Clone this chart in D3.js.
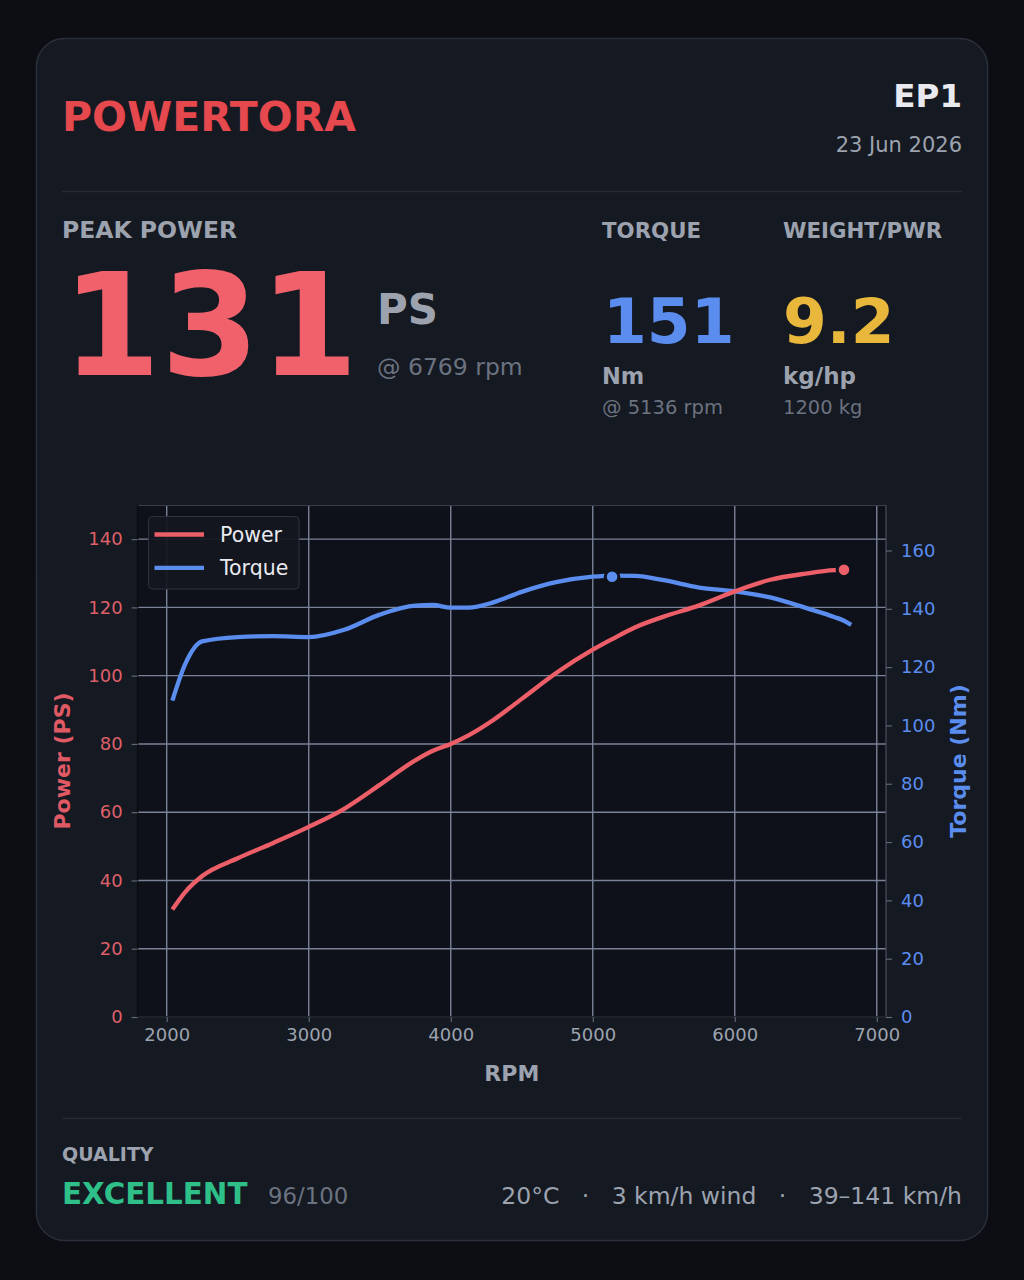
<!DOCTYPE html>
<html>
<head>
<meta charset="utf-8">
<script src="https://cdn.jsdelivr.net/npm/d3@7"></script>
<style>
  html, body { margin: 0; padding: 0; background: #0c0e13; }
  svg { display: block; font-family: "DejaVu Sans", sans-serif; }
  .pre { white-space: pre; }
</style>
</head>
<body>
<div id="chart"></div>
<script>
// DATA
const rpm    = [2040, 2130, 2250, 2500, 2750, 3000, 3250, 3500, 3750, 3875, 4000, 4125, 4300, 4500, 4750, 5000, 5136, 5300, 5500, 5750, 6000, 6250, 6500, 6700, 6769, 6820];
const power  = [31.5, 36.6, 41.3, 46.5, 51.0, 55.7, 61.0, 68.0, 75.2, 78.0, 80.0, 82.5, 87.0, 93.2, 101.0, 107.6, 110.7, 114.2, 117.3, 120.6, 124.7, 128.1, 129.9, 130.9, 131.0, 130.6];
const torque = [108.5, 121.0, 128.8, 130.3, 130.6, 130.3, 132.8, 138.0, 141.1, 141.3, 140.4, 140.4, 142.2, 145.8, 149.2, 151.0, 151.4, 151.3, 149.8, 147.3, 146.0, 143.9, 140.3, 137.2, 135.9, 134.5];
const rpmTicks    = [2000, 3000, 4000, 5000, 6000, 7000];
const powerTicks  = [0, 20, 40, 60, 80, 100, 120, 140];
const torqueTicks = [0, 20, 40, 60, 80, 100, 120, 140, 160];
const peakPower  = {rpm: 6769, value: 131};
const peakTorque = {rpm: 5136, value: 151};
const weatherBits = ["20°C", "3 km/h wind", "39–141 km/h"];

// COLOURS
const C = {
  page: '#0c0e13', card: '#151922', cardLine: '#2a2f3b', divider: '#252a35',
  plot: '#0f111a', grid: '#7a8296',
  red: '#e5484d', power: '#ec5f69', torque: '#5b8def', gold: '#e9b73c', green: '#2fbf88',
  label: '#9ca3af', muted: '#6b7280', white: '#e8eaef'
};

const W = 1024, H = 1280;
const svg = d3.select('#chart').append('svg').attr('width', W).attr('height', H);
svg.append('rect').attr('width', W).attr('height', H).attr('fill', C.page);

// card
svg.append('rect')
  .attr('x', 36.5).attr('y', 38.5).attr('width', 951).attr('height', 1202).attr('rx', 28)
  .attr('fill', C.card).attr('stroke', C.cardLine).attr('stroke-width', 1.5);

function txt(x, y, s, size, color, weight, anchor) {
  return svg.append('text').attr('x', x).attr('y', y)
    .attr('font-size', size).attr('fill', color)
    .attr('font-weight', weight || 'normal')
    .attr('text-anchor', anchor || 'start').text(s);
}

// header
txt(62, 131, 'POWERTORA', 41, C.red, 'bold');
txt(962, 107, 'EP1', 32.5, C.white, 'bold', 'end');
txt(962, 152, '23 Jun 2026', 21, C.label, 'normal', 'end');
svg.append('line').attr('x1', 62).attr('x2', 962).attr('y1', 191.5).attr('y2', 191.5)
  .attr('stroke', C.divider).attr('stroke-width', 1.5);

// stats
txt(62, 238, 'PEAK POWER', 23.5, C.label, 'bold');
txt(62, 375, String(peakPower.value), 142, '#f0616b', 'bold');
txt(377, 324, 'PS', 42, C.label, 'bold');
txt(377, 375, '@ ' + peakPower.rpm + ' rpm', 23.5, C.muted);

txt(602, 238, 'TORQUE', 21.3, C.label, 'bold');
txt(603, 343, String(peakTorque.value), 63, C.torque, 'bold');
txt(602, 384, 'Nm', 22.5, C.label, 'bold');
txt(602, 414, '@ ' + peakTorque.rpm + ' rpm', 19.5, C.muted);

txt(783, 238, 'WEIGHT/PWR', 21.3, C.label, 'bold');
txt(783, 343, '9.2', 63, C.gold, 'bold');
txt(783, 384, 'kg/hp', 23, C.label, 'bold');
txt(783, 414, '1200 kg', 19.5, C.muted);

// CHART
const px0 = 137.6, px1 = 886, py0 = 505, py1 = 1017;
const x  = d3.scaleLinear().domain([1795, 7065]).range([px0, px1]);
const yP = d3.scaleLinear().domain([0, 150]).range([py1, py0]);
const yT = d3.scaleLinear().domain([0, 175.6]).range([py1, py0]);

const g = svg.append('g');
g.append('rect').attr('x', px0).attr('y', py0).attr('width', px1 - px0).attr('height', py1 - py0)
  .attr('fill', C.plot);

// grid
g.selectAll('line.gx').data(rpmTicks).join('line').attr('class', 'gx')
  .attr('x1', d => x(d)).attr('x2', d => x(d)).attr('y1', py0).attr('y2', py1)
  .attr('stroke', C.grid).attr('stroke-width', 1.4);
g.selectAll('line.gy').data(powerTicks).join('line').attr('class', 'gy')
  .attr('x1', px0).attr('x2', px1).attr('y1', d => yP(d)).attr('y2', d => yP(d))
  .attr('stroke', C.grid).attr('stroke-width', 1.4);

// spines
g.append('line').attr('x1', px0).attr('x2', px1).attr('y1', py0 + 0.5).attr('y2', py0 + 0.5).attr('stroke', '#3a3f4c').attr('stroke-width', 1.2);
g.append('line').attr('x1', px1).attr('x2', px1).attr('y1', py0).attr('y2', py1).attr('stroke', '#4a5060').attr('stroke-width', 1.2);
g.append('line').attr('x1', px0).attr('x2', px0).attr('y1', py0).attr('y2', py1).attr('stroke', '#0a0c10').attr('stroke-width', 1.5);
g.append('line').attr('x1', px0).attr('x2', px1).attr('y1', py1).attr('y2', py1).attr('stroke', '#0a0c10').attr('stroke-width', 1.5);

// axes
function styleAxis(sel, color) {
  sel.select('.domain').remove();
  sel.selectAll('.tick line').attr('stroke', '#5f6677').attr('stroke-width', 1.2);
  sel.selectAll('.tick text').attr('fill', color).attr('font-size', 18)
    .attr('font-family', '"DejaVu Sans", sans-serif');
}
const axB = svg.append('g').attr('transform', `translate(0,${py1})`)
  .call(d3.axisBottom(x).tickValues(rpmTicks).tickSize(5).tickPadding(6).tickFormat(d3.format('d')));
styleAxis(axB, C.label);
const axL = svg.append('g').attr('transform', `translate(${px0},0)`)
  .call(d3.axisLeft(yP).tickValues(powerTicks).tickSize(6).tickPadding(9));
styleAxis(axL, '#dd6069');
const axR = svg.append('g').attr('transform', `translate(${px1},0)`)
  .call(d3.axisRight(yT).tickValues(torqueTicks).tickSize(6).tickPadding(9));
styleAxis(axR, C.torque);

txt((px0 + px1) / 2, 1081, 'RPM', 22, C.label, 'bold', 'middle');
svg.append('text').attr('transform', `translate(70,${(py0 + py1) / 2}) rotate(-90)`)
  .attr('text-anchor', 'middle').attr('font-size', 22).attr('font-weight', 'bold')
  .attr('fill', '#e05a65').text('Power (PS)');
svg.append('text').attr('transform', `translate(966,${(py0 + py1) / 2}) rotate(-90)`)
  .attr('text-anchor', 'middle').attr('font-size', 22).attr('font-weight', 'bold')
  .attr('fill', C.torque).text('Torque (Nm)');

// curves
const rows = rpm.map((r, i) => ({rpm: r, p: power[i], t: torque[i]}));
const lineP = d3.line().x(d => x(d.rpm)).y(d => yP(d.p)).curve(d3.curveMonotoneX);
const lineT = d3.line().x(d => x(d.rpm)).y(d => yT(d.t)).curve(d3.curveMonotoneX);
g.append('path').datum(rows).attr('d', lineT).attr('fill', 'none')
  .attr('stroke', C.torque).attr('stroke-width', 4.3).attr('stroke-linecap', 'butt');
g.append('path').datum(rows).attr('d', lineP).attr('fill', 'none')
  .attr('stroke', C.power).attr('stroke-width', 4.3).attr('stroke-linecap', 'butt');

// peak markers
g.append('circle').attr('cx', x(peakTorque.rpm)).attr('cy', yT(peakTorque.value)).attr('r', 6.8)
  .attr('fill', C.torque).attr('stroke', C.plot).attr('stroke-width', 3);
g.append('circle').attr('cx', x(peakPower.rpm)).attr('cy', yP(peakPower.value)).attr('r', 6.8)
  .attr('fill', C.power).attr('stroke', C.plot).attr('stroke-width', 3);

// legend
const lg = svg.append('g').attr('transform', 'translate(148.5,516.5)');
lg.append('rect').attr('width', 150.5).attr('height', 72.5).attr('rx', 4)
  .attr('fill', '#141720').attr('fill-opacity', 0.92).attr('stroke', '#2d323e').attr('stroke-width', 1);
const legendItems = [{name: 'Power', color: C.power}, {name: 'Torque', color: C.torque}];
legendItems.forEach((d, i) => {
  const yy = 18 + i * 33.3;
  lg.append('line').attr('x1', 6).attr('x2', 55.5).attr('y1', yy).attr('y2', yy)
    .attr('stroke', d.color).attr('stroke-width', 4.3);
  lg.append('text').attr('x', 71.5).attr('y', yy + 7.5).attr('font-size', 20.5)
    .attr('fill', C.white).text(d.name);
});

// footer
svg.append('line').attr('x1', 62).attr('x2', 962).attr('y1', 1118.5).attr('y2', 1118.5)
  .attr('stroke', C.divider).attr('stroke-width', 1.5);
txt(62, 1161, 'QUALITY', 19, C.label, 'bold');
txt(62, 1204, 'EXCELLENT', 29.4, C.green, 'bold');
txt(268, 1204, '96/100', 22.8, C.muted);
txt(962, 1204, weatherBits.join('   ·   '), 23.5, C.label, 'normal', 'end').attr('class', 'pre');
</script>
</body>
</html>
